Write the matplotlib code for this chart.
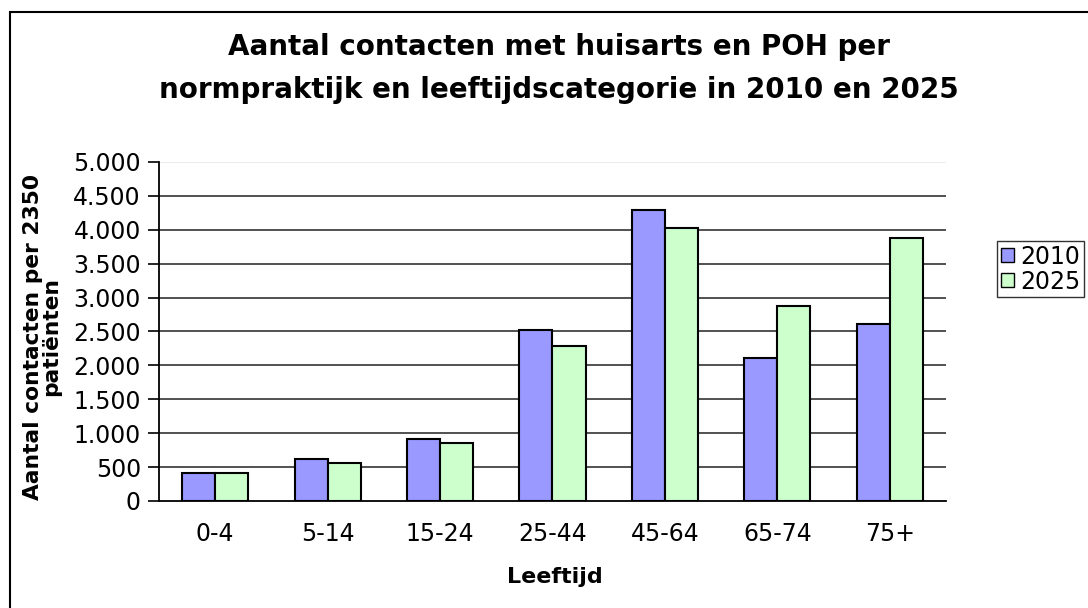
import matplotlib
matplotlib.use("Agg")
import matplotlib.pyplot as plt
import numpy as np
from matplotlib.patches import Rectangle, Patch
from matplotlib.ticker import FuncFormatter

# Data
categories = ["0-4", "5-14", "15-24", "25-44", "45-64", "65-74", "75+"]
values_2010 = [410, 615, 910, 2520, 4290, 2115, 2615]
values_2025 = [410, 555, 850, 2290, 4030, 2880, 3885]
series_names = ["2010", "2025"]
yticks = [0, 500, 1000, 1500, 2000, 2500, 3000, 3500, 4000, 4500, 5000]

color_2010 = "#9999ff"
color_2025 = "#ccffcc"

fig = plt.figure(figsize=(10.88, 6.08), dpi=100)
ax = fig.add_axes([0.1461, 0.176, 0.7234, 0.5576])

x = np.arange(len(categories))
w = 0.294
ax.bar(x - w / 2, values_2010, width=w, color=color_2010, edgecolor="black", linewidth=1.5, zorder=3)
ax.bar(x + w / 2, values_2025, width=w, color=color_2025, edgecolor="black", linewidth=1.5, zorder=3)

# Gridlines (the top one is faint, like the plot-area border in the original)
for t in yticks[1:-1]:
    ax.axhline(t, color="#222222", linewidth=1.1, zorder=1)
ax.axhline(yticks[-1], color="#e6e6e6", linewidth=1.1, zorder=1)

ax.set_xlim(-0.5, len(categories) - 0.5)
ax.set_ylim(0, 5000)
ax.set_yticks(yticks)
ax.yaxis.set_major_formatter(FuncFormatter(lambda v, p: f"{int(v):,}".replace(",", ".")))
ax.set_xticks(x)
ax.set_xticklabels(categories)

for s in ["top", "right"]:
    ax.spines[s].set_visible(False)
ax.spines["left"].set_linewidth(1.3)
ax.spines["bottom"].set_linewidth(1.3)
ax.tick_params(axis="y", direction="out", length=8, width=1.2, labelsize=17, pad=5)
ax.tick_params(axis="x", length=0, labelsize=17, pad=15)

# Title and axis labels
fig.text(0.514, 1 - 47 / 608, "Aantal contacten met huisarts en POH per", ha="center", va="center",
         fontsize=20, fontweight="bold")
fig.text(0.514, 1 - 90 / 608, "normpraktijk en leeftijdscategorie in 2010 en 2025", ha="center", va="center",
         fontsize=20, fontweight="bold")
fig.text(42 / 1088, 1 - 337 / 608, "Aantal contacten per 2350\npatiënten", rotation=90, ha="center", va="center",
         multialignment="center", fontsize=15.7, fontweight="bold", linespacing=0.85)
fig.text(555 / 1088, 1 - 577 / 608, "Leeftijd", ha="center", va="center", fontsize=16, fontweight="bold")

# Legend
handles = [Patch(facecolor=color_2010, edgecolor="black"), Patch(facecolor=color_2025, edgecolor="black")]
leg = fig.legend(handles, series_names, loc="upper left", bbox_to_anchor=(997 / 1088, 1 - 241 / 608),
                 fontsize=17, frameon=True, fancybox=False, handlelength=0.55, handleheight=0.55,
                 handletextpad=0.3, borderpad=0.15, labelspacing=0.05, borderaxespad=0)
leg.get_frame().set_edgecolor("black")
leg.get_frame().set_linewidth(1.0)

# Outer chart border (runs off the right and bottom of the picture)
fig.patches.append(Rectangle((10 / 1088, -0.05), 1.2, 1 - 12 / 608 + 0.05, transform=fig.transFigure,
                             fill=False, edgecolor="black", linewidth=1.5))

fig.savefig("out.png", dpi=100)
